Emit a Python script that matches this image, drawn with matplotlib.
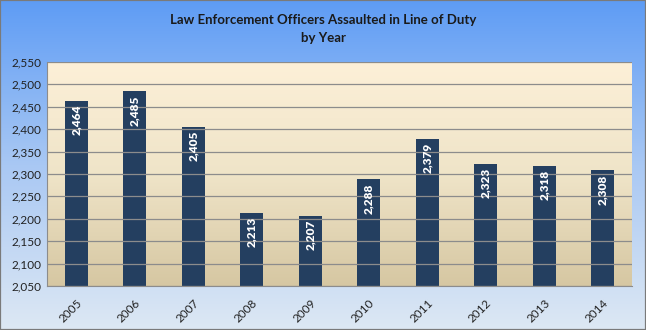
import numpy as np
import matplotlib.pyplot as plt
from matplotlib.colors import LinearSegmentedColormap
from matplotlib.ticker import FuncFormatter, MultipleLocator

years = ["2005", "2006", "2007", "2008", "2009", "2010", "2011", "2012", "2013", "2014"]
assaults = [2464, 2485, 2405, 2213, 2207, 2288, 2379, 2323, 2318, 2308]
y_min, y_max, y_step = 2050, 2550, 50

plt.rcParams['font.family'] = ['Lato', 'DejaVu Sans']

W, H, DPI = 646, 330, 100
fig = plt.figure(figsize=(W / DPI, H / DPI), dpi=DPI)

# figure background: blue fading to pale blue
bg = fig.add_axes([0, 0, 1, 1], zorder=-10)
bg_cmap = LinearSegmentedColormap.from_list("bg", ["#dde8f4", "#a9c8f3", "#5e9cf5"])
bg.imshow(np.linspace(0, 1, 256).reshape(-1, 1), cmap=bg_cmap, aspect="auto",
          extent=[0, 1, 0, 1], origin="lower")
bg.set_xlim(0, 1)
bg.set_ylim(0, 1)
bg.axis("off")
bg.add_patch(plt.Rectangle((0, 0), 1, 1, transform=bg.transAxes, fill=False,
                           edgecolor="#7a7a7a", linewidth=1.6))

left, right, top, bottom = 47, 632, 62, 286
ax = fig.add_axes([left / W, 1 - bottom / H, (right - left) / W, (bottom - top) / H])

x = np.arange(len(years))
ax.set_xlim(-0.5, len(years) - 0.5)
ax.set_ylim(y_min, y_max)

# plot area: cream fading to tan
pa_cmap = LinearSegmentedColormap.from_list("pa", ["#d6c7a2", "#efe4c8", "#fdf0d8"])
ax.imshow(np.linspace(0, 1, 256).reshape(-1, 1), cmap=pa_cmap, aspect="auto",
          extent=[-0.5, len(years) - 0.5, y_min, y_max], origin="lower", zorder=0)

ax.yaxis.set_major_locator(MultipleLocator(y_step))
ax.grid(axis="y", color="#8c8c8c", linewidth=0.9, zorder=1)
ax.set_axisbelow(False)

bars = ax.bar(x, [v - y_min for v in assaults], bottom=y_min, width=0.39,
              color="#243f60", zorder=2)

for xi, v in zip(x, assaults):
    ax.text(xi, v - 9, f"{v:,}", rotation=90, ha="center", va="top",
            color="white", fontsize=8.5, fontweight="heavy", zorder=3)

ax.yaxis.set_major_formatter(FuncFormatter(lambda v, p: f"{int(v):,}"))
ax.set_xticks(x)
ax.set_xticklabels(years, rotation=45, ha="right", rotation_mode="anchor")
ax.tick_params(axis="both", length=0, labelsize=8.5, colors="#222222")
ax.tick_params(axis="x", pad=8)
ax.tick_params(axis="y", pad=4)

for side in ("top", "right"):
    ax.spines[side].set_visible(False)
ax.spines["left"].set_color("#8c8c8c")
ax.spines["bottom"].set_color("#8c8c8c")

fig.text(0.5, 1 - 29 / H, "Law Enforcement Officers Assaulted in Line of Duty\nby Year",
         ha="center", va="center", fontsize=9.5, fontweight="bold", color="#1a1a1a",
         linespacing=1.5)

fig.savefig("out.png", dpi=DPI)
